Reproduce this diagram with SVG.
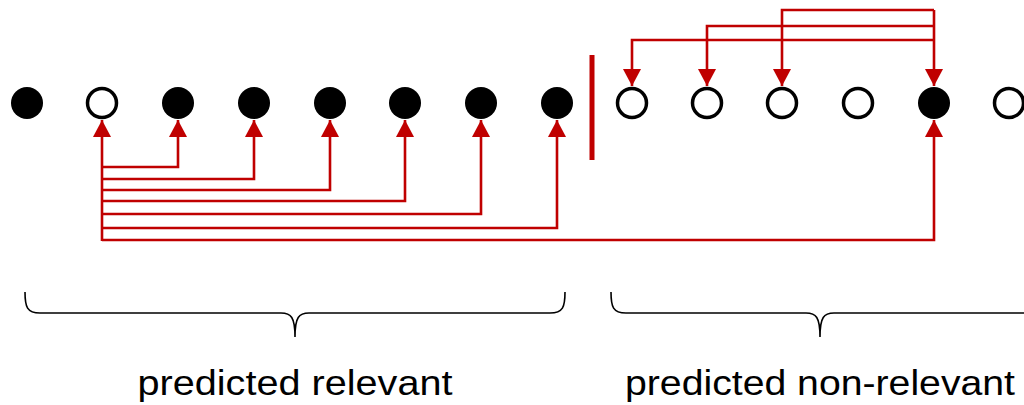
<svg xmlns="http://www.w3.org/2000/svg" width="1024" height="405" viewBox="0 0 1024 405">
<style>
.full{fill:#000;}
.open{fill:#fff;stroke:#000;stroke-width:3.5;}
.conn{fill:none;stroke:#C00000;stroke-width:2.6;marker-end:url(#ah);}
.brace{fill:none;stroke:#000;stroke-width:1.6;}
.lbl{font-family:"Liberation Sans",Arial,sans-serif;font-size:35px;fill:#000;text-anchor:middle;}
</style>
<defs>
<marker id="ah" markerUnits="userSpaceOnUse" markerWidth="18" markerHeight="18" viewBox="0 0 18 18" refX="17" refY="9" orient="auto">
<path d="M0,0 L17,9 L0,18 Z" fill="#C00000"/>
</marker>
</defs>
<rect width="1024" height="405" fill="#fff"/>
<g id="nodes">
<g id="n1"><circle class="full" cx="27" cy="103" r="16"/></g>
<g id="n2"><circle class="open" cx="102" cy="103" r="14.5"/></g>
<g id="n3"><circle class="full" cx="178" cy="103" r="16"/></g>
<g id="n4"><circle class="full" cx="254" cy="103" r="16"/></g>
<g id="n5"><circle class="full" cx="330" cy="103" r="16"/></g>
<g id="n6"><circle class="full" cx="405" cy="103" r="16"/></g>
<g id="n7"><circle class="full" cx="481" cy="103" r="16"/></g>
<g id="n8"><circle class="full" cx="557" cy="103" r="16"/></g>
<g id="n9"><circle class="open" cx="632" cy="103" r="14.5"/></g>
<g id="n10"><circle class="open" cx="707" cy="103" r="14.5"/></g>
<g id="n11"><circle class="open" cx="782" cy="103" r="14.5"/></g>
<g id="n12"><circle class="open" cx="858" cy="103" r="14.5"/></g>
<g id="n13"><circle class="full" cx="934" cy="103" r="16"/></g>
<g id="n14"><circle class="open" cx="1009" cy="103" r="14.5"/></g>
</g>
<g id="divider"><rect x="589.5" y="55" width="5" height="105" fill="#C00000"/></g>
<g id="connectors">
<path class="conn" d="M102,241 V120"/>
<path class="conn" d="M102,167 H178 V120"/>
<path class="conn" d="M102,179 H254 V120"/>
<path class="conn" d="M102,190 H330 V120"/>
<path class="conn" d="M102,201 H405 V120"/>
<path class="conn" d="M102,214 H481 V120"/>
<path class="conn" d="M102,228 H557 V120"/>
<path class="conn" d="M102,240 H934 V120"/>
<path class="conn" d="M934,10 V86"/>
<path class="conn" d="M934,10 H782 V86"/>
<path class="conn" d="M934,26 H707 V86"/>
<path class="conn" d="M934,40 H632 V86"/>
</g>
<g id="braces">
<path class="brace" d="M25,292 C25,307 27,313 40,313 H281 C291,313 295,317 295,337 C295,317 299,313 309,313 H550 C563,313 565,307 565,292"/>
<path class="brace" d="M611,292 C611,307 613,313 626,313 H806 C816,313 820,317 820,337 C820,317 824,313 834,313 H1024"/>
</g>
<g id="labels">
<text class="lbl" x="295" y="395" textLength="315" lengthAdjust="spacingAndGlyphs">predicted relevant</text>
<text class="lbl" x="820" y="395" textLength="390" lengthAdjust="spacingAndGlyphs">predicted non-relevant</text>
</g>
</svg>
